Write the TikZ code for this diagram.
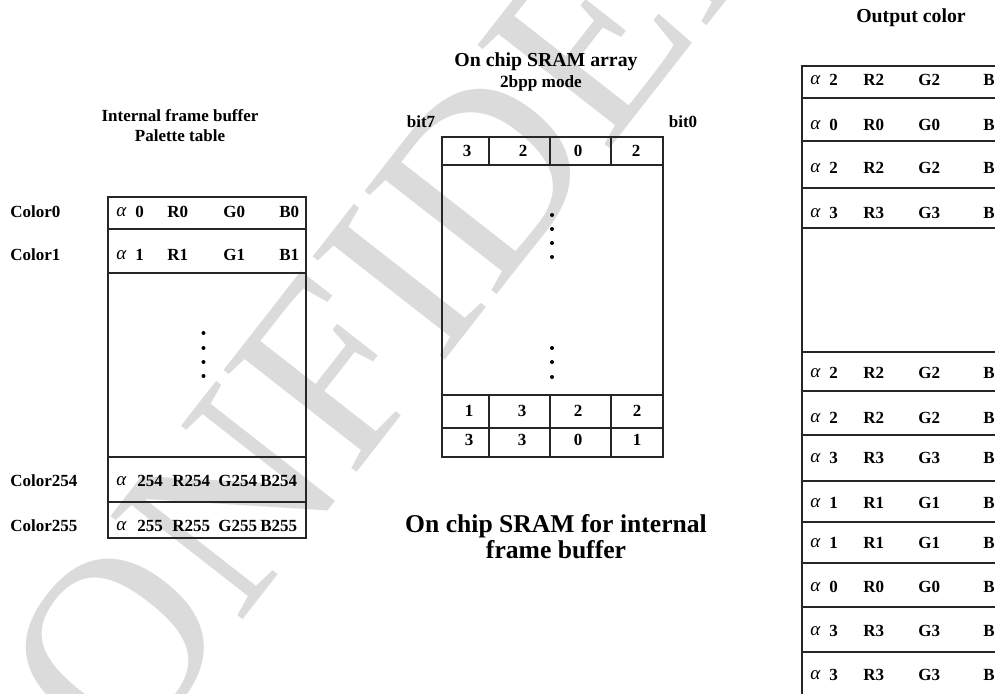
\documentclass[tikz,border=0pt]{standalone}
\usepackage{fontspec}
\setmainfont{Liberation Serif}
\usetikzlibrary{positioning}
\newcommand{\alphsym}{{\mdseries\itshape\fontsize{9.5}{10}\selectfont α}}

\begin{document}
\begin{tikzpicture}[x=0.5pt,y=-0.5pt,font=\fontsize{8.5}{10}\selectfont\bfseries,
  tbl/.style={draw=black!85,line width=0.6pt},
  txt/.style={inner sep=0pt,anchor=west},
  num/.style={inner sep=0pt},
  wmark/.style={inner sep=0pt,anchor=base west,rotate=52,text=black!14,
    font=\mdseries\fontsize{128}{128}\selectfont}]
  \useasboundingbox (0,0) rectangle (995,693);
  \clip (0,0) rectangle (995,693);
  % watermark
  \node[wmark] (wm) at (19,906) {CONFIDENTIAL};

  % palette table
  \node (paltitle) at (180,126) [align=center] {Internal frame buffer\\Palette table};
  \node[txt] (lab0) at (10,212) {Color0};
  \node[txt] (lab1) at (10,255) {Color1};
  \node[txt] (lab254) at (10,481) {Color254};
  \node[txt] (lab255) at (10,526) {Color255};
  \draw[tbl] (108,197) rectangle (306,538);
  \foreach \y in {229,273,457,502} \draw[tbl] (108,\y) -- (306,\y);
  \foreach \i/\y in {0/212,1/255} {
    \node[txt] (pa\i) at (116,\y) {\alphsym};
    \node[txt] (pn\i) at (135,\y) {\i};
    \node[txt] (pr\i) at (167,\y) {R\i};
    \node[txt] (pg\i) at (223,\y) {G\i};
    \node[txt] (pb\i) at (279,\y) {B\i};
  }
  \foreach \i/\y in {254/481,255/526} {
    \node[txt] (pa\i) at (116,\y) {\alphsym};
    \node[txt] (pn\i) at (137,\y) {\i};
    \node[txt] (pr\i) at (172,\y) {R\i};
    \node[txt] (pg\i) at (218,\y) {G\i};
    \node[txt] (pb\i) at (260,\y) {B\i};
  }
  \foreach \y in {333,348,362,376} \fill (203.5,\y) circle (1pt);

  % SRAM array
  \node (sramtitle) at (546,62) {\fontsize{9.9}{11}\selectfont On chip SRAM array};
  \node (mode) at (541,83) {\fontsize{8.6}{9}\selectfont 2bpp mode};
  \node (bitseven) at (421,122) {bit7};
  \node (bitzero) at (683,122) {bit0};
  \draw[tbl] (442,137) rectangle (663,457);
  \foreach \y in {165,395,428} \draw[tbl] (442,\y) -- (663,\y);
  \foreach \x in {489,550,611} {
    \draw[tbl] (\x,137) -- (\x,165);
    \draw[tbl] (\x,395) -- (\x,457);
  }
  \foreach \x/\d [count=\k] in {467/3,523/2,578/0,636/2}
    \node[num] (sa\k) at (\x,151) {\d};
  \foreach \x/\d [count=\k] in {469/1,522/3,578/2,637/2}
    \node[num] (sb\k) at (\x,411) {\d};
  \foreach \x/\d [count=\k] in {469/3,522/3,578/0,637/1}
    \node[num] (sc\k) at (\x,440) {\d};
  \foreach \y in {215,229,243,257,348,362,377} \fill (552,\y) circle (1pt);
  \node[align=center,font=\fontsize{12.8}{13}\selectfont\bfseries] (caption) at (556,537)
    {On chip SRAM for internal\\frame buffer};

  % output colours
  \node (outtitle) at (911,18) {\fontsize{9.9}{11}\selectfont Output color};
  \draw[tbl] (802,66) rectangle (1010,710);
  \foreach \y in {98,141,188,228,352,391,435,481,522,563,607,652}
    \draw[tbl] (802,\y) -- (1010,\y);
  \foreach \c/\y [count=\k] in {2/80,0/125,2/168,3/213,2/373,2/418,3/458,1/503,1/543,0/587,3/631,3/675} {
    \node[txt] (oa\k) at (810,\y) {\alphsym};
    \node[txt] (on\k) at (829,\y) {\c};
    \node[txt] (or\k) at (863,\y) {R\c};
    \node[txt] (og\k) at (918,\y) {G\c};
    \node[txt] (ob\k) at (983,\y) {B\c};
  }
\end{tikzpicture}
\end{document}
